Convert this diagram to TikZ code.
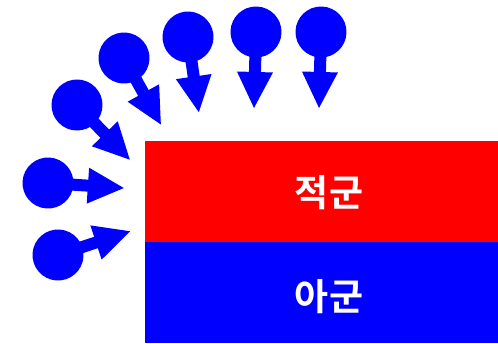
\documentclass[tikz,border=0pt]{standalone}
\usepackage{fontspec}
\newfontfamily\krfont{Noto Sans CJK KR}[BoldFont={Noto Sans CJK KR Bold}]
\begin{document}
\begin{tikzpicture}[x=1pt,y=-1pt,
  tokenfill/.style={fill=blue,draw=none},
  panel/.style={draw=none,minimum width=353pt,minimum height=101pt,inner sep=0pt,anchor=north west},
  lbl/.style={inner sep=0pt,text=white,font=\krfont\bfseries\fontsize{37}{37}\selectfont},
  pics/token/.style={code={
    \fill[tokenfill] (0,0) circle (25.5);
    \fill[tokenfill] (0,-6) rectangle (42,6);
    \fill[tokenfill] (40,-18) -- (76,0) -- (40,18) -- cycle;
  }}]
\useasboundingbox (0,0) rectangle (498,343);
\node[panel,fill=red] (enemy) at (145,141) {};
\node[panel,fill=blue] (ally) at (145,242) {};
\node[lbl] (enemytext) at (329,193) {적군};
\node[lbl] (allytext) at (329,297) {아군};
\pic[rotate=18.2] (t1) at (58,255) {token};
\pic[rotate=-3.8] (t2) at (48,183) {token};
\pic[rotate=-46] (t3) at (77,105) {token};
\pic[rotate=-61] (t4) at (124,58) {token};
\pic[rotate=-81.8] (t5) at (188,37) {token};
\pic[rotate=-91.5] (t6) at (256,32) {token};
\pic[rotate=-91.5] (t7) at (321,32) {token};
\end{tikzpicture}
\end{document}
